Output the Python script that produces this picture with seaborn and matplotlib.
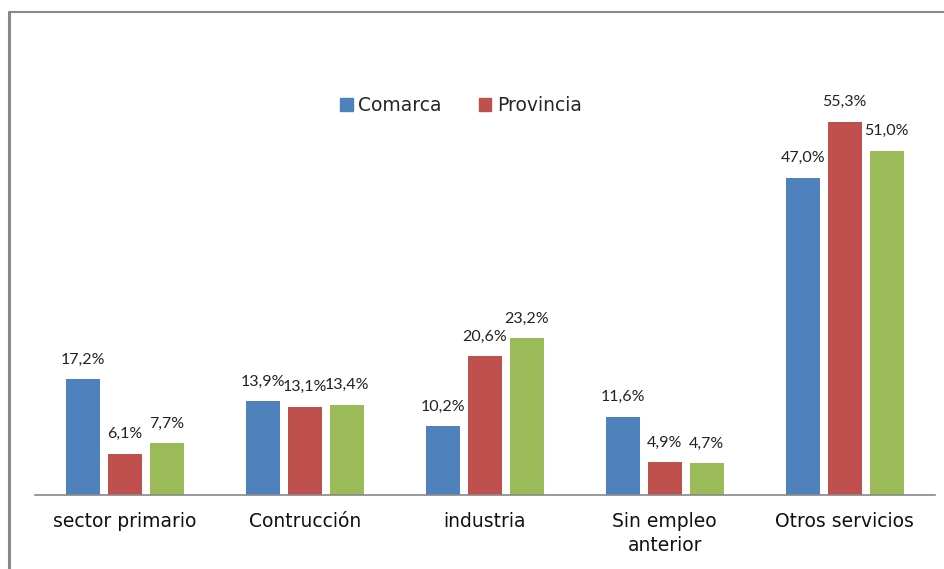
import pandas as pd
import seaborn as sns
import matplotlib.pyplot as plt
from matplotlib.lines import Line2D
from matplotlib.patches import Patch

# values (percent)
categories = ["sector primario", "Contrucción", "industria", "Sin empleo\nanterior", "Otros servicios"]
comarca = [17.2, 13.9, 10.2, 11.6, 47.0]
provincia = [6.1, 13.1, 20.6, 4.9, 55.3]
tercera = [7.7, 13.4, 23.2, 4.7, 51.0]
series_names = ["Comarca", "Provincia", "Andalucía"]
colors = ["#4F81BD", "#C0504D", "#9BBB59"]

rows = []
for name, vals in zip(series_names, [comarca, provincia, tercera]):
    for cat, v in zip(categories, vals):
        rows.append({"categoria": cat, "serie": name, "valor": v})
df = pd.DataFrame(rows)

sns.set_style("white")
plt.rcParams["font.family"] = ["DejaVu Sans"]
fig = plt.figure(figsize=(9.45, 5.69), dpi=100)
ax = fig.add_axes([0.037, 0.130, 0.952, 0.712])

sns.barplot(data=df, x="categoria", y="valor", hue="serie", palette=colors,
            saturation=1, linewidth=0, width=0.7, gap=0.19, ax=ax,
            legend=False, errorbar=None)

ax.set_ylim(0, 60)
ax.set_xlim(-0.5, len(categories) - 0.5)

# value labels (narrower font so neighbours don't collide)
for cont in ax.containers:
    for bar in cont:
        h = bar.get_height()
        ax.annotate(f"{h:.1f}%".replace(".", ","),
                    (bar.get_x() + bar.get_width() / 2, h),
                    xytext=(0, 9), textcoords="offset points",
                    ha="center", va="bottom", fontsize=11.5,
                    family=["Lato", "DejaVu Sans"], color="#222222")

# axis styling
for s in ["top", "right", "left"]:
    ax.spines[s].set_visible(False)
ax.spines["bottom"].set_color("#888888")
ax.spines["bottom"].set_linewidth(1.2)
ax.set_yticks([])
ax.set_xlabel("")
ax.set_ylabel("")
ax.set_xticks([i - 0.5 for i in range(1, len(categories) + 1)], minor=True)
ax.tick_params(axis="x", which="minor", length=5, color="#888888", width=1.2)
ax.tick_params(axis="x", which="major", length=0, labelsize=13.5, pad=12, labelcolor="#111111")
for lab in ax.get_xticklabels():
    lab.set_linespacing(1.35)

# legend (only two entries visible in the original)
handles = [Patch(color=colors[0], label=series_names[0]),
           Patch(color=colors[1], label=series_names[1])]
fig.legend(handles=handles, loc="center", bbox_to_anchor=(0.488, 0.814), ncol=2,
           frameon=False, fontsize=13.5, handlelength=0.65, handleheight=0.65,
           handletextpad=0.3, columnspacing=2.0)

# chart frame (top and left edges)
fig.add_artist(Line2D([0.0095, 1.0], [0.979, 0.979], color="#888888", lw=1.5))
fig.add_artist(Line2D([0.0095, 0.0095], [0.0, 0.979], color="#888888", lw=2.2))

fig.savefig("out.png", dpi=100)
